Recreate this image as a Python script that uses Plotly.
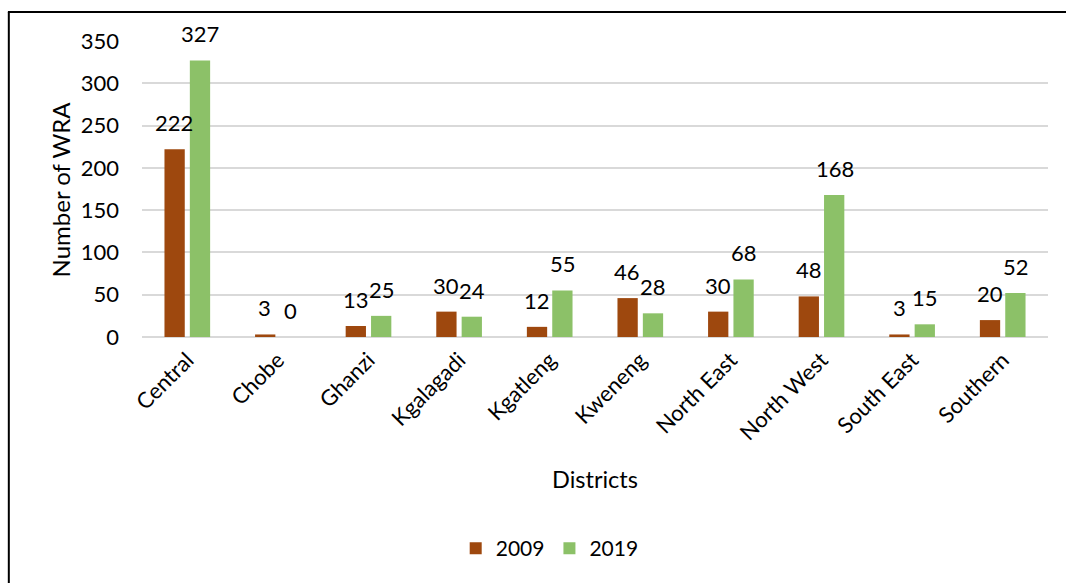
import plotly.graph_objects as go

districts = ["Central", "Chobe", "Ghanzi", "Kgalagadi", "Kgatleng",
             "Kweneng", "North East", "North West", "South East", "Southern"]
wra_2009 = [222, 3, 13, 30, 12, 46, 30, 48, 3, 20]
wra_2019 = [327, 0, 25, 24, 55, 28, 68, 168, 15, 52]
y_ticks = [0, 50, 100, 150, 200, 250, 300, 350]

FONT = "Lato, 'Open Sans', sans-serif"
C2009 = "#9E480E"
C2019 = "#8CC168"

fig = go.Figure()
fig.add_trace(go.Bar(name="2009", x=districts, y=wra_2009, marker_color=C2009,
                     marker_line_width=0))
fig.add_trace(go.Bar(name="2019", x=districts, y=wra_2019, marker_color=C2019,
                     marker_line_width=0))

# value labels above each bar
annotations = []
for cat, v1, v2 in zip(districts, wra_2009, wra_2019):
    for val, shift in ((v1, -13), (v2, 13)):
        annotations.append(dict(x=cat, y=val, xref="x", yref="y", text=str(val),
                                showarrow=False, xshift=shift, yshift=11,
                                yanchor="bottom",
                                font=dict(family=FONT, size=22, color="#000")))

# axis titles
annotations.append(dict(x=-0.09, y=0.5, xref="paper", yref="paper",
                        text="Number of WRA", textangle=-90, showarrow=False,
                        xanchor="center", yanchor="middle",
                        font=dict(family=FONT, size=24, color="#000")))
annotations.append(dict(x=0.5, y=-0.48, xref="paper", yref="paper",
                        text="Districts", showarrow=False,
                        xanchor="center", yanchor="middle",
                        font=dict(family=FONT, size=23.5, color="#000")))

fig.update_layout(
    width=1066, height=583,
    margin=dict(l=142, r=18, t=41, b=246),
    paper_bgcolor="white", plot_bgcolor="white",
    barmode="group", bargap=0.44, bargroupgap=0.2,
    font=dict(family=FONT, size=22, color="#000"),
    showlegend=True,
    legend=dict(orientation="h", x=0.45, y=-0.715, xanchor="center",
                yanchor="middle", font=dict(family=FONT, size=21),
                itemwidth=30, tracegroupgap=0),
    annotations=annotations,
    shapes=[
        dict(type="line", xref="paper", yref="paper", x0=-0.147, x1=-0.147,
             y0=1.098, y1=-1.2, line=dict(color="#000", width=2)),
        dict(type="line", xref="paper", yref="paper", x0=-0.148, x1=1.2,
             y0=1.098, y1=1.098, line=dict(color="#000", width=2)),
    ],
)
fig.update_xaxes(tickangle=-45, showline=False, showgrid=False, zeroline=False,
                 ticks="", tickfont=dict(family=FONT, size=22),
                 ticklabelstandoff=5)
fig.update_yaxes(range=[0, 350], tickvals=y_ticks, showgrid=True,
                 gridcolor="#d9d9d9", gridwidth=1.5, zeroline=True,
                 zerolinecolor="#d9d9d9", zerolinewidth=1.5, showline=False,
                 ticks="", tickfont=dict(family=FONT, size=22),
                 ticklabelstandoff=22)

fig.write_html("out.html")
